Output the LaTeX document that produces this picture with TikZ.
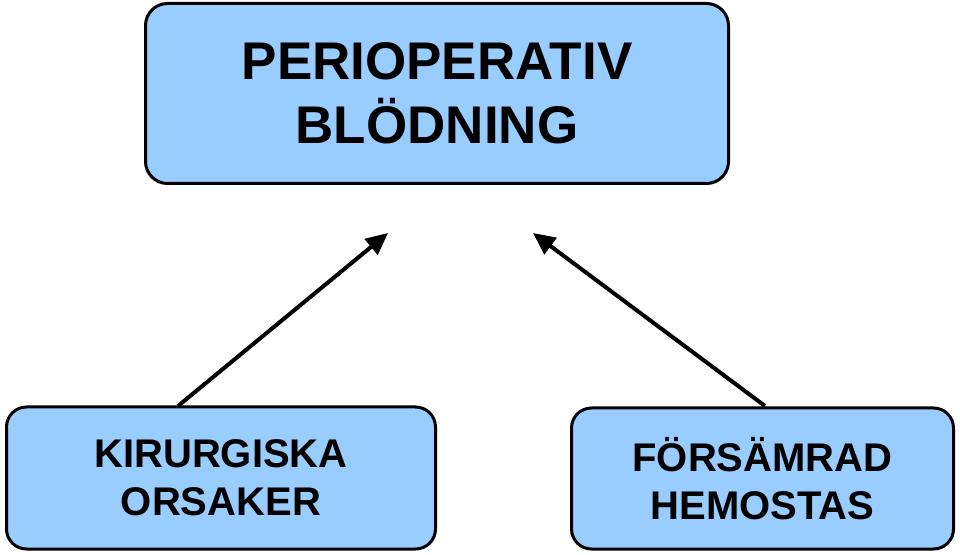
\documentclass[tikz,border=0pt]{standalone}
\usepackage{fontspec}
\setmainfont{Liberation Sans}
\usetikzlibrary{arrows.meta}
\definecolor{boxblue}{HTML}{99CCFF}
\begin{document}
\begin{tikzpicture}[x=1pt,y=1pt,
  box/.style={draw=black,line width=3pt,fill=boxblue,rounded corners=22pt,align=center,inner sep=0pt},
  arr/.style={line width=4pt,-{Triangle[length=22pt,width=20pt]}}]
\useasboundingbox (0,0) rectangle (960,554);
\node[box,minimum width=583pt,minimum height=180pt,font=\bfseries\fontsize{53}{64}\selectfont] (top) at (437,460.5) {PERIOPERATIV\\BLÖDNING};
\node[box,rounded corners=20pt,minimum width=429pt,minimum height=142pt,font=\bfseries\fontsize{40}{48}\selectfont] (kir) at (221,76) {KIRURGISKA\\ORSAKER};
\node[box,rounded corners=20pt,minimum width=382pt,minimum height=141pt,font=\bfseries\fontsize{40}{48}\selectfont] (hem) at (762.5,75.5) {FÖRSÄMRAD\\HEMOSTAS};
\coordinate (ls) at (178,148);
\coordinate (lt) at (388,321);
\coordinate (rs) at (765,148);
\coordinate (rt) at (533,321);
\draw[arr] (ls) -- (lt);
\draw[arr] (rs) -- (rt);
\end{tikzpicture}
\end{document}
